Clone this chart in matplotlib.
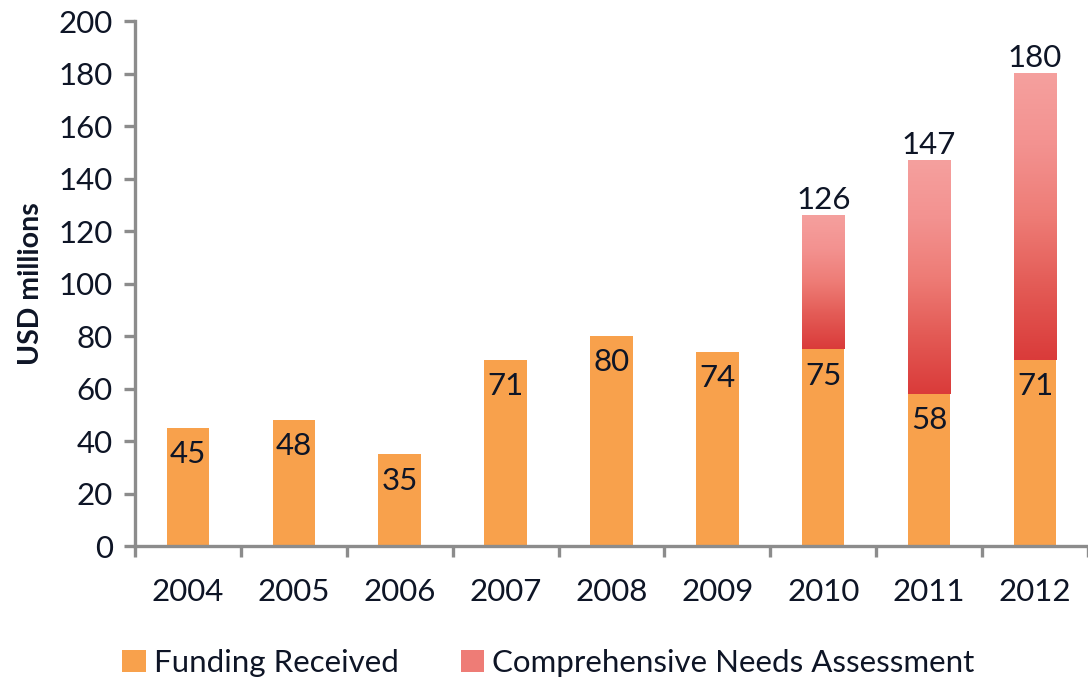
import matplotlib.pyplot as plt
import numpy as np
from matplotlib.colors import LinearSegmentedColormap
from matplotlib.patches import Patch

plt.rcParams['font.family'] = ['Lato', 'DejaVu Sans']

years = ['2004', '2005', '2006', '2007', '2008', '2009', '2010', '2011', '2012']
funding = [45, 48, 35, 71, 80, 74, 75, 58, 71]
totals = [None, None, None, None, None, None, 126, 147, 180]

ORANGE = '#F8A14C'
AXIS = '#8C8C8C'
TEXT = '#0E1526'
FS = 22.5
needs_cmap = LinearSegmentedColormap.from_list(
    'needs', ['#DA3B3A', '#E35A55', '#EE7C76', '#F39290', '#F5A09E'])

fig = plt.figure(figsize=(10.88, 6.82), dpi=100)
ax = fig.add_axes([0.124, 0.1994, 0.876, 0.7698])

x = np.arange(len(years))
width = 0.4
ax.bar(x, funding, width=width, color=ORANGE, zorder=2)

# gradient fill for the needs-assessment part of the stack
grad = np.linspace(0, 1, 256).reshape(-1, 1)
for i, (f, t) in enumerate(zip(funding, totals)):
    if t is None:
        continue
    ax.imshow(grad, cmap=needs_cmap, origin='lower', aspect='auto',
              extent=(i - width / 2, i + width / 2, f, t), zorder=2)
    ax.annotate(str(t), (i, t), xytext=(0, 1), textcoords='offset points',
                ha='center', va='bottom', fontsize=FS, color=TEXT)

for i, f in enumerate(funding):
    ax.annotate(str(f), (i, f), xytext=(0, -19), textcoords='offset points',
                ha='center', va='center', fontsize=FS, color=TEXT, zorder=3)

ax.set_xlim(-0.5, len(years) - 0.5)
ax.set_ylim(0, 200)
ax.set_yticks(range(0, 201, 20))
ax.set_xticks(x)
ax.set_xticklabels(years)
ax.set_xticks(np.arange(-0.5, len(years), 1), minor=True)

for side in ['top', 'right']:
    ax.spines[side].set_visible(False)
for side in ['left', 'bottom']:
    ax.spines[side].set_color(AXIS)
    ax.spines[side].set_linewidth(2.4)

ax.tick_params(axis='y', direction='out', length=8, width=2.4, color=AXIS,
               labelsize=FS, labelcolor=TEXT, pad=8)
ax.tick_params(axis='x', which='major', length=0, labelsize=FS,
               labelcolor=TEXT, pad=23)
ax.tick_params(axis='x', which='minor', direction='out', length=8, width=2.4,
               color=AXIS)

ax.set_ylabel('USD millions', fontsize=20.5, fontweight='bold', color=TEXT,
              labelpad=10)

handles = [Patch(facecolor=ORANGE), Patch(facecolor='#EE7C76')]
fig.legend(handles, ['Funding Received', 'Comprehensive Needs Assessment'],
           loc='center', bbox_to_anchor=(0.504, 0.028), ncol=2, frameon=False,
           fontsize=FS, labelcolor=TEXT, handlelength=0.75, handleheight=0.75,
           handletextpad=0.25, columnspacing=2.0)

fig.savefig('out.png', dpi=100)
